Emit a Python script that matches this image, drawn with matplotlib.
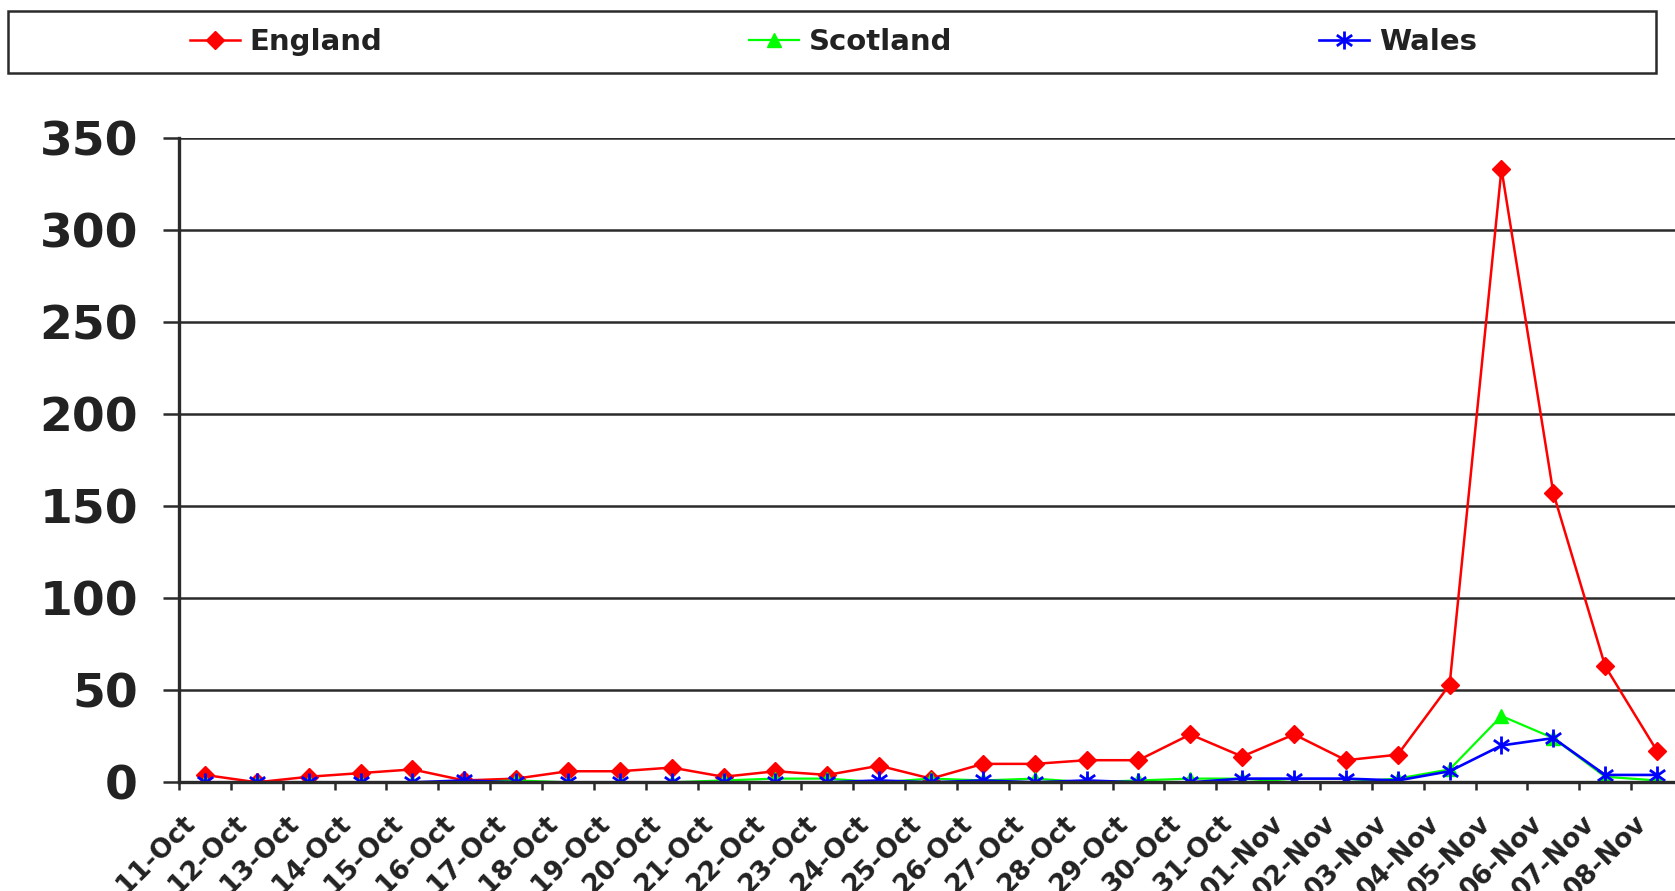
import matplotlib

matplotlib.use("Agg")
import matplotlib.pyplot as plt
from matplotlib.patches import Rectangle
from matplotlib.path import Path
from matplotlib.transforms import ScaledTranslation
import numpy as np

dates = [
    "11-Oct", "12-Oct", "13-Oct", "14-Oct", "15-Oct", "16-Oct", "17-Oct",
    "18-Oct", "19-Oct", "20-Oct", "21-Oct", "22-Oct", "23-Oct", "24-Oct",
    "25-Oct", "26-Oct", "27-Oct", "28-Oct", "29-Oct", "30-Oct", "31-Oct",
    "01-Nov", "02-Nov", "03-Nov", "04-Nov", "05-Nov", "06-Nov", "07-Nov",
    "08-Nov",
]
england = [4, 0, 3, 5, 7, 1, 2, 6, 6, 8, 3, 6, 4, 9, 2, 10, 10, 12, 12, 26,
           14, 26, 12, 15, 53, 333, 157, 63, 17]
scotland = [0, 0, 0, 0, 0, 0, 1, 0, 0, 0, 1, 2, 2, 0, 2, 1, 2, 0, 1, 2,
            2, 0, 0, 2, 7, 36, 24, 3, 1]
wales = [0, 0, 0, 0, 0, 1, 0, 0, 0, 0, 0, 0, 0, 1, 0, 1, 0, 1, 0, 0,
         2, 2, 2, 1, 6, 20, 24, 4, 4]
y_ticks = [0, 50, 100, 150, 200, 250, 300, 350]

TEXT = "#222222"
GRID = "#2b2b2b"

plt.rcParams["font.family"] = ["DejaVu Sans"]
plt.rcParams["font.weight"] = "bold"

# excel style asterisk marker
star = Path(
    [(0, -1), (0, 1), (-0.85, -0.6), (0.85, 0.6), (-0.85, 0.6), (0.85, -0.6)],
    [Path.MOVETO, Path.LINETO, Path.MOVETO, Path.LINETO, Path.MOVETO, Path.LINETO],
)

fig = plt.figure(figsize=(16.75, 8.91), dpi=100)
ax = fig.add_axes([179 / 1675, 1 - 782.3 / 891, 1504 / 1675, (782.3 - 137.7) / 891])

x = np.arange(len(dates))
ax.plot(x, england, color="#ff0000", lw=1.8, marker="D", ms=9.5, label="England")
ax.plot(x, scotland, color="#00ff00", lw=1.6, marker="^", ms=10.5, label="Scotland")
ax.plot(x, wales, color="#0000ff", lw=1.9, marker=star, ms=13, mew=2, label="Wales")

ax.set_xlim(-0.5, len(dates) - 0.5)
ax.set_ylim(0, 350)
ax.set_yticks(y_ticks)
ax.set_yticklabels([str(v) for v in y_ticks], fontsize=34, fontweight="bold", color=TEXT)
ax.yaxis.grid(True, color=GRID, lw=1.8)
ax.set_axisbelow(True)
ax.tick_params(axis="y", direction="out", length=11.5, width=1.8, color=GRID, pad=18)

ax.set_xticks(x)
ax.set_xticklabels(dates, fontsize=19, fontweight="bold", color=TEXT,
                   rotation=45, ha="right", va="center", rotation_mode="anchor")
ax.tick_params(axis="x", which="major", length=0, pad=27)
ax.set_xticks(np.arange(len(dates) + 1) - 0.5, minor=True)
ax.tick_params(axis="x", which="minor", direction="out", length=6, width=1.8, color=GRID)
shift = ScaledTranslation(-14 / 100, 0, fig.dpi_scale_trans)
for label in ax.get_xticklabels():
    label.set_transform(label.get_transform() + shift)

for side in ["top", "right"]:
    ax.spines[side].set_visible(False)
for side in ["left", "bottom"]:
    ax.spines[side].set_linewidth(2.4)
    ax.spines[side].set_color(GRID)

handles, labels = ax.get_legend_handles_labels()
fig.legend(
    handles, labels, loc="center", ncol=3, mode="expand", frameon=False,
    bbox_to_anchor=(190 / 1675, 1 - 72 / 891, (1477 - 190) / 1675, 60 / 891),
    prop={"size": 21, "weight": "bold"}, labelcolor=TEXT,
    handlelength=1.7, handletextpad=0.35, borderpad=0, borderaxespad=0,
)
fig.add_artist(Rectangle((7.5 / 1675, 1 - 72.6 / 891), 1648 / 1675, 62 / 891,
                         transform=fig.transFigure, fill=False, lw=1.8, ec=GRID))

fig.savefig("out.png", dpi=100)
